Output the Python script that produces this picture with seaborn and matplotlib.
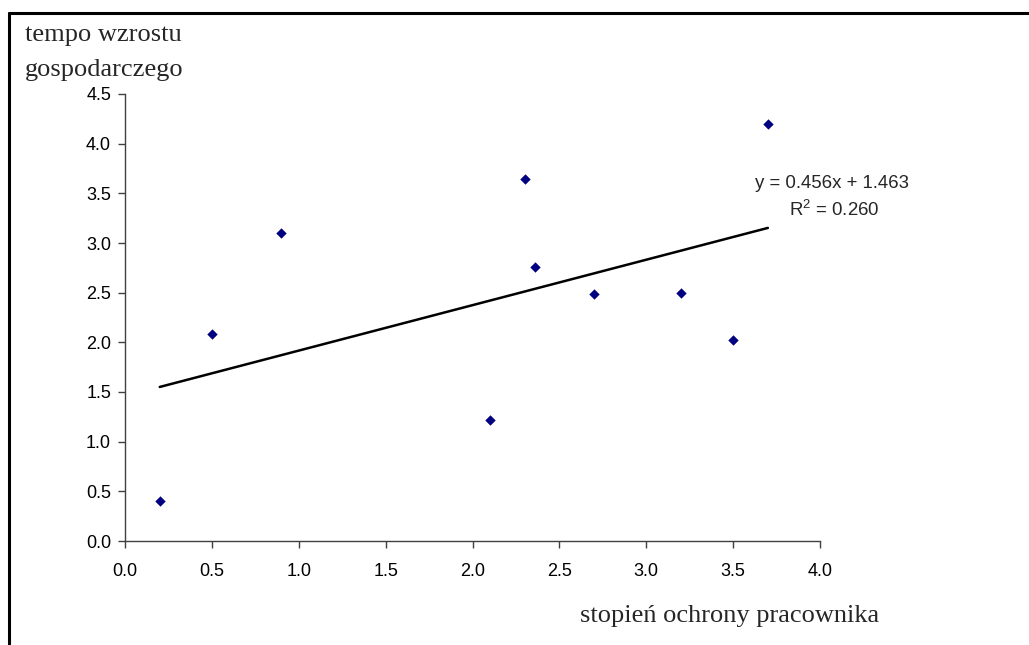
import numpy as np
import pandas as pd
import seaborn as sns
import matplotlib
matplotlib.use("Agg")
import matplotlib.pyplot as plt
from matplotlib.lines import Line2D

# ---- data ----
protection = [0.2, 0.5, 0.9, 2.1, 2.3, 2.36, 2.7, 3.2, 3.5, 3.7]
growth = [0.4, 2.08, 3.1, 1.22, 3.64, 2.76, 2.49, 2.5, 2.02, 4.2]
x_ticks = [0.0, 0.5, 1.0, 1.5, 2.0, 2.5, 3.0, 3.5, 4.0]
y_ticks = [0.0, 0.5, 1.0, 1.5, 2.0, 2.5, 3.0, 3.5, 4.0, 4.5]
x_label = "stopień ochrony pracownika"
y_label = "tempo wzrostu\ngospodarczego"
eq_text = "y = 0.456x + 1.463"
r2_text = "R$^2$ = 0.260"

df = pd.DataFrame({"x": protection, "y": growth})

sns.set_style("white")
plt.rcParams["font.family"] = ["Liberation Sans", "DejaVu Sans"]
plt.rcParams["mathtext.fontset"] = "custom"
plt.rcParams["mathtext.rm"] = "Liberation Sans"
plt.rcParams["mathtext.default"] = "regular"

W, H = 1029, 645
fig = plt.figure(figsize=(W / 100, H / 100), dpi=100)
ax = fig.add_axes([125 / W, 1 - 541 / H, (820 - 125) / W, (541 - 94) / H])

sns.regplot(data=df, x="x", y="y", ax=ax, scatter=False, ci=None, truncate=True,
            line_kws=dict(color="black", lw=1.8))
sns.scatterplot(data=df, x="x", y="y", ax=ax, marker="D", s=28, color="#000080",
                linewidth=0, zorder=3)

ax.set_xlim(0, 4.0)
ax.set_ylim(0, 4.5)
ax.set_xticks(x_ticks)
ax.set_yticks(y_ticks)
ax.set_xticklabels([f"{v:.1f}" for v in x_ticks])
ax.set_yticklabels([f"{v:.1f}" for v in y_ticks])

for s in ["top", "right"]:
    ax.spines[s].set_visible(False)
for s in ["left", "bottom"]:
    ax.spines[s].set_color("#404040")
    ax.spines[s].set_linewidth(1.0)

ax.tick_params(axis="both", direction="out", length=5, width=1.0, color="#404040",
               labelsize=13, labelcolor="black", left=True, bottom=True)
ax.tick_params(axis="y", pad=5)
ax.tick_params(axis="x", pad=11)

serif = ["Liberation Serif", "DejaVu Serif"]
ax.set_ylabel(y_label, rotation=0, ha="left", va="top", family=serif, fontsize=19,
              linespacing=1.75)
ax.yaxis.set_label_coords((25 - 125) / 695, (541 - 24) / 447)
ax.set_xlabel(x_label, ha="left", va="baseline", family=serif, fontsize=19)
ax.xaxis.set_label_coords((580 - 125) / 695, (541 - 622) / 447)

ax.text((832 - 125) / 695, (541 - 183) / 447, eq_text, transform=ax.transAxes,
        ha="center", va="center", fontsize=13.4, clip_on=False)
ax.text((834 - 125) / 695, (541 - 210) / 447, r2_text, transform=ax.transAxes,
        ha="center", va="center", fontsize=13.4, clip_on=False)

# frame around the chart area (top and left edges visible in the crop)
fig.add_artist(Line2D([9 / W, 1.0], [1 - 13 / H, 1 - 13 / H], transform=fig.transFigure,
                      color="black", lw=2.2))
fig.add_artist(Line2D([9 / W, 9 / W], [1 - 13 / H, 0.0], transform=fig.transFigure,
                      color="black", lw=2.2))

fig.savefig("out.png", dpi=100)
